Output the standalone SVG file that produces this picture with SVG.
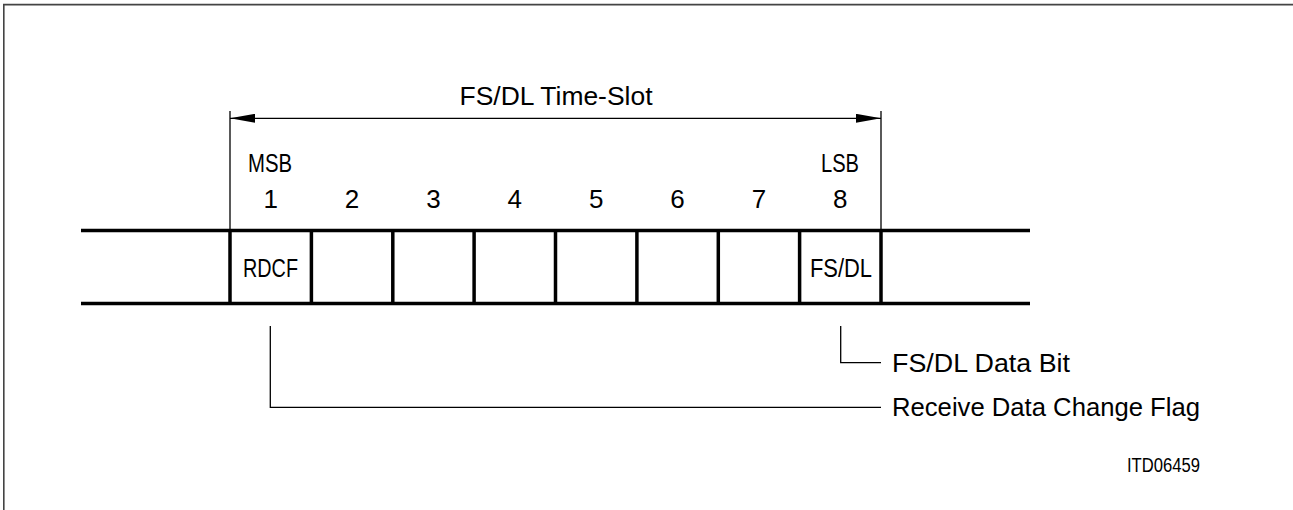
<svg xmlns="http://www.w3.org/2000/svg" width="1293" height="510" viewBox="0 0 1293 510">
<style>
.t{font-family:"Liberation Sans",Arial,sans-serif;font-size:26px;fill:#000}
.d{font-family:"Liberation Sans",Arial,sans-serif;font-size:26px;fill:#000}
.s{font-family:"Liberation Sans",Arial,sans-serif;font-size:20px;fill:#000}
.thick{stroke:#000;stroke-width:3.5;fill:none}
.thin{stroke:#000;stroke-width:1.3;fill:none}
</style>
<defs>
<marker id="ah" viewBox="0 0 25 9" refX="25" refY="4.5" markerWidth="25" markerHeight="9" markerUnits="userSpaceOnUse" orient="auto-start-reverse">
<path d="M0,0 L25,4.5 L0,9 Z" fill="#000"/>
</marker>
</defs>
<rect width="1293" height="510" fill="#fff"/>
<path d="M3.8,510 V4.6 H1293" stroke="#444" stroke-width="1.6" fill="none"/>
<g id="timeslot-dimension">
<line class="thin" x1="230" y1="111" x2="230" y2="230"/>
<line class="thin" x1="881" y1="111" x2="881" y2="230"/>
<line class="thin" x1="230" y1="118.3" x2="881" y2="118.3" marker-start="url(#ah)" marker-end="url(#ah)"/>
<text class="t" x="556" y="105" text-anchor="middle" textLength="193" lengthAdjust="spacingAndGlyphs">FS/DL Time-Slot</text>
</g>
<g id="rails">
<line class="thick" x1="81" y1="230.5" x2="1030" y2="230.5"/>
<line class="thick" x1="81" y1="303.5" x2="1030" y2="303.5"/>
</g>
<g id="bit-labels">
<text class="t" x="270" y="172" text-anchor="middle" textLength="44" lengthAdjust="spacingAndGlyphs">MSB</text>
<text class="t" x="840" y="172" text-anchor="middle" textLength="38" lengthAdjust="spacingAndGlyphs">LSB</text>
<text class="d" x="270.7" y="208" text-anchor="middle">1</text>
<text class="d" x="352" y="208" text-anchor="middle">2</text>
<text class="d" x="433.5" y="208" text-anchor="middle">3</text>
<text class="d" x="514.8" y="208" text-anchor="middle">4</text>
<text class="d" x="596.2" y="208" text-anchor="middle">5</text>
<text class="d" x="677.6" y="208" text-anchor="middle">6</text>
<text class="d" x="759" y="208" text-anchor="middle">7</text>
<text class="d" x="840.3" y="208" text-anchor="middle">8</text>
</g>
<g id="cells">
<line class="thick" x1="230" y1="229" x2="230" y2="305"/>
<line class="thick" x1="311.4" y1="229" x2="311.4" y2="305"/>
<line class="thick" x1="392.8" y1="229" x2="392.8" y2="305"/>
<line class="thick" x1="474.1" y1="229" x2="474.1" y2="305"/>
<line class="thick" x1="555.5" y1="229" x2="555.5" y2="305"/>
<line class="thick" x1="636.9" y1="229" x2="636.9" y2="305"/>
<line class="thick" x1="718.3" y1="229" x2="718.3" y2="305"/>
<line class="thick" x1="799.6" y1="229" x2="799.6" y2="305"/>
<line class="thick" x1="881" y1="229" x2="881" y2="305"/>
</g>
<g id="bit1">
<text class="t" x="270.5" y="277" text-anchor="middle" textLength="55" lengthAdjust="spacingAndGlyphs">RDCF</text>
</g>
<g id="bit8">
<text class="t" x="841" y="277" text-anchor="middle" textLength="62" lengthAdjust="spacingAndGlyphs">FS/DL</text>
</g>
<g id="connectors">
<polyline class="thin" points="840.7,326 840.7,362.7 881,362.7"/>
<polyline class="thin" points="270.3,326 270.3,407.3 881,407.3"/>
</g>
<g id="label-fsdl-bit">
<text class="t" x="892" y="372" textLength="178" lengthAdjust="spacingAndGlyphs">FS/DL Data Bit</text>
</g>
<g id="label-rdcf">
<text class="t" x="892" y="416" textLength="308" lengthAdjust="spacingAndGlyphs">Receive Data Change Flag</text>
</g>
<text class="s" x="1127" y="472" textLength="73" lengthAdjust="spacingAndGlyphs">ITD06459</text>
</svg>
